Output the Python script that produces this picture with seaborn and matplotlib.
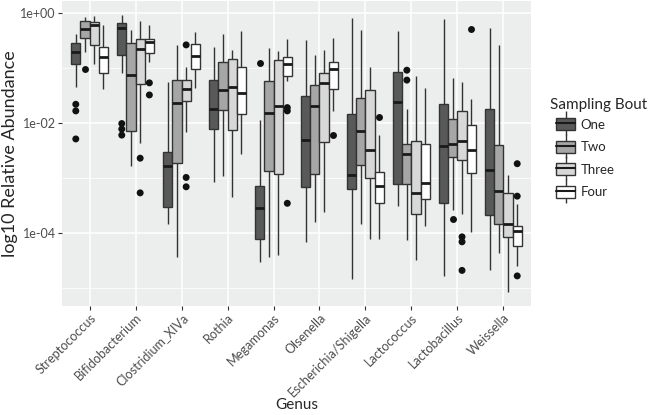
import numpy as np
import pandas as pd
import seaborn as sns
import matplotlib

matplotlib.use("Agg")
import matplotlib.pyplot as plt
from matplotlib.patches import Patch
from matplotlib.lines import Line2D
from matplotlib.legend_handler import HandlerTuple
from matplotlib.ticker import FixedLocator, NullFormatter

genera = [
    "Streptococcus", "Bifidobacterium", "Clostridium_XIVa", "Rothia", "Megamonas",
    "Olsenella", "Escherichia/Shigella", "Lactococcus", "Lactobacillus", "Weissella",
]
bouts = ["One", "Two", "Three", "Four"]

# box stats, log10 units, one row per genus, columns = bouts
whisker_low = [
    [-1.34, -0.71, -0.92, -1.39],
    [-1.09, -2.79, -2.37, -0.90],
    [-3.83, -4.43, -2.16, -1.37],
    [-3.08, -2.96, -3.35, -2.57],
    [-4.52, -4.43, -4.40, -1.24],
    [-4.16, -3.80, -3.61, -1.78],
    [-4.83, -3.83, -4.11, -4.11],
    [-3.51, -4.13, -4.49, -3.87],
    [-4.78, -3.59, -3.66, -3.98],
    [-4.67, -4.36, -5.08, -4.60],
]
q1 = [
    [-0.92, -0.45, -0.58, -1.09],
    [-0.77, -2.15, -1.30, -0.72],
    [-3.52, -2.73, -1.60, -1.01],
    [-2.11, -1.77, -2.13, -1.83],
    [-4.10, -2.88, -2.93, -1.15],
    [-3.16, -2.92, -2.35, -1.39],
    [-3.20, -2.77, -3.00, -3.45],
    [-3.10, -3.11, -3.65, -3.38],
    [-3.45, -2.61, -2.68, -2.90],
    [-3.68, -3.83, -4.07, -4.24],
]
median = [
    [-0.71, -0.29, -0.21, -0.80],
    [-0.27, -1.13, -0.65, -0.53],
    [-2.78, -1.63, -1.39, -0.78],
    [-1.75, -1.40, -1.34, -1.46],
    [-3.55, -1.81, -1.69, -0.93],
    [-2.31, -1.69, -1.27, -1.01],
    [-2.94, -2.14, -2.50, -3.14],
    [-1.61, -2.56, -3.27, -3.09],
    [-2.41, -2.38, -2.32, -2.49],
    [-2.86, -3.23, -3.83, -3.96],
]
q3 = [
    [-0.54, -0.15, -0.17, -0.61],
    [-0.19, -0.54, -0.47, -0.47],
    [-2.53, -1.21, -1.21, -0.56],
    [-1.21, -0.89, -0.83, -0.99],
    [-3.14, -1.24, -0.86, -0.80],
    [-1.51, -1.31, -1.10, -0.89],
    [-1.83, -1.54, -1.40, -2.89],
    [-1.08, -2.38, -2.32, -2.38],
    [-1.66, -1.93, -1.78, -2.04],
    [-1.75, -2.40, -3.27, -3.87],
]
whisker_high = [
    [-0.38, -0.08, -0.05, -0.21],
    [-0.03, -0.31, -0.15, -0.21],
    [-1.25, -0.59, -0.99, -0.35],
    [-0.62, -0.38, -0.67, -0.32],
    [-1.95, -0.63, -0.69, -0.47],
    [-0.49, -0.76, -0.67, -0.45],
    [-0.09, -0.31, -0.98, -2.22],
    [-0.32, -1.74, -1.15, -1.37],
    [-0.11, -1.18, -1.25, -1.57],
    [-0.27, -0.59, -2.95, -3.48],
]

# outlying points
out_genus = (
    ["Streptococcus"] * 4 + ["Bifidobacterium"] * 7 + ["Clostridium_XIVa"] * 3
    + ["Megamonas"] * 4 + ["Olsenella"] + ["Escherichia/Shigella"]
    + ["Lactococcus"] * 2 + ["Lactobacillus"] * 5 + ["Weissella"] * 3
)
out_bout = [
    "One", "One", "One", "Two",
    "One", "One", "One", "Three", "Three", "Four", "Four",
    "Three", "Three", "Three",
    "One", "Four", "Four", "Four",
    "Four",
    "Four",
    "Two", "Two",
    "Two", "Three", "Three", "Three", "Four",
    "Four", "Four", "Four",
]
out_log10 = [
    -1.66, -1.78, -2.29, -1.01,
    -2.01, -2.11, -2.22, -2.64, -3.27, -1.27, -1.49,
    -0.58, -2.99, -3.16,
    -0.91, -1.72, -1.78, -3.46,
    -2.22,
    -1.89,
    -1.04, -1.22,
    -3.75, -4.07, -4.16, -4.68, -0.29,
    -2.74, -3.33, -4.78,
]

bout_colors = {"One": "#595959", "Two": "#a6a6a6", "Three": "#d8d8d8", "Four": "#ffffff"}

rows = []
for i, g in enumerate(genera):
    for j, b in enumerate(bouts):
        for stat in (whisker_low, q1, median, q3, whisker_high):
            rows.append({"Genus": g, "Bout": b, "value": 10 ** stat[i][j]})
box_df = pd.DataFrame(rows)

out_df = pd.DataFrame(
    {"Genus": out_genus, "Bout": out_bout, "value": [10**v for v in out_log10]}
)

sns.set_theme(style="darkgrid", rc={
    "axes.facecolor": "#ECEDED",
    "grid.color": "white",
    "axes.edgecolor": "#ECEDED",
})
plt.rcParams["font.family"] = ["Lato", "DejaVu Sans"]

fig = plt.figure(figsize=(6.5, 4.15), dpi=100)
ax = fig.add_axes([62 / 650, 1 - 305.5 / 415, 469 / 650, 304.5 / 415])

sns.boxplot(
    data=box_df, x="Genus", y="value", hue="Bout", order=genera, hue_order=bouts,
    palette=bout_colors, saturation=1, width=0.8, whis=(0, 100), fliersize=0,
    linecolor="#333333", linewidth=1.0, log_scale=True, legend=False,
    showcaps=False, medianprops={"color": "#1a1a1a", "linewidth": 2.0}, ax=ax,
)
sns.stripplot(
    data=out_df, x="Genus", y="value", hue="Bout", order=genera, hue_order=bouts,
    palette={b: "#111111" for b in bouts}, dodge=True, jitter=False, size=5,
    linewidth=0, log_scale=True, legend=False, ax=ax, zorder=4,
)

ax.set_xlim(-0.6, 9.6)
ax.set_ylim(10 ** -5.318, 10 ** 0.218)
ax.yaxis.set_major_locator(FixedLocator([1, 1e-2, 1e-4]))
ax.set_yticklabels(["1e+00", "1e-02", "1e-04"])
ax.yaxis.set_minor_locator(FixedLocator([1e-1, 1e-3, 1e-5]))
ax.yaxis.set_minor_formatter(NullFormatter())
ax.grid(which="major", color="white", linewidth=1.1)
ax.grid(which="minor", axis="y", color="white", linewidth=0.55)
ax.set_axisbelow(True)
for s in ax.spines.values():
    s.set_visible(False)

ax.tick_params(axis="both", which="major", length=3, width=0.8, color="#333333",
               labelcolor="#4d4d4d", pad=1.5, bottom=True, left=True)
ax.tick_params(axis="x", labelsize=9.1)
ax.tick_params(axis="y", labelsize=9)
ax.tick_params(axis="y", which="minor", length=0)
plt.setp(ax.get_xticklabels(), rotation=45, ha="right", rotation_mode="anchor")

ax.set_xlabel("Genus", fontsize=11)
ax.xaxis.set_label_coords(0.5, -0.328)
ax.xaxis.label.set_va("center")
ax.set_ylabel("log10 Relative Abundance", fontsize=13)
ax.yaxis.set_label_coords(-0.11, 0.5)
ax.yaxis.label.set_va("center")

# legend drawn like ggplot keys
handles = []
for b in bouts:
    handles.append((
        Line2D([], [], marker="|", markersize=17, markeredgewidth=1.0,
               color="#333333", linestyle="none"),
        Patch(facecolor=bout_colors[b], edgecolor="#333333", linewidth=1.0),
        Line2D([], [], color="#1a1a1a", linewidth=1.5),
    ))
fig.text(550 / 650, 1 - 105 / 415, "Sampling Bout", fontsize=11, va="center")
fig.legend(
    handles, bouts, loc="upper left", bbox_to_anchor=(556 / 650, 1 - 118 / 415),
    frameon=False, fontsize=9.5, handlelength=1.44, handleheight=1.05,
    handletextpad=0.4, labelspacing=0.75, borderpad=0, borderaxespad=0,
    handler_map={tuple: HandlerTuple(ndivide=1)},
)

plt.savefig("out.png", dpi=100)
